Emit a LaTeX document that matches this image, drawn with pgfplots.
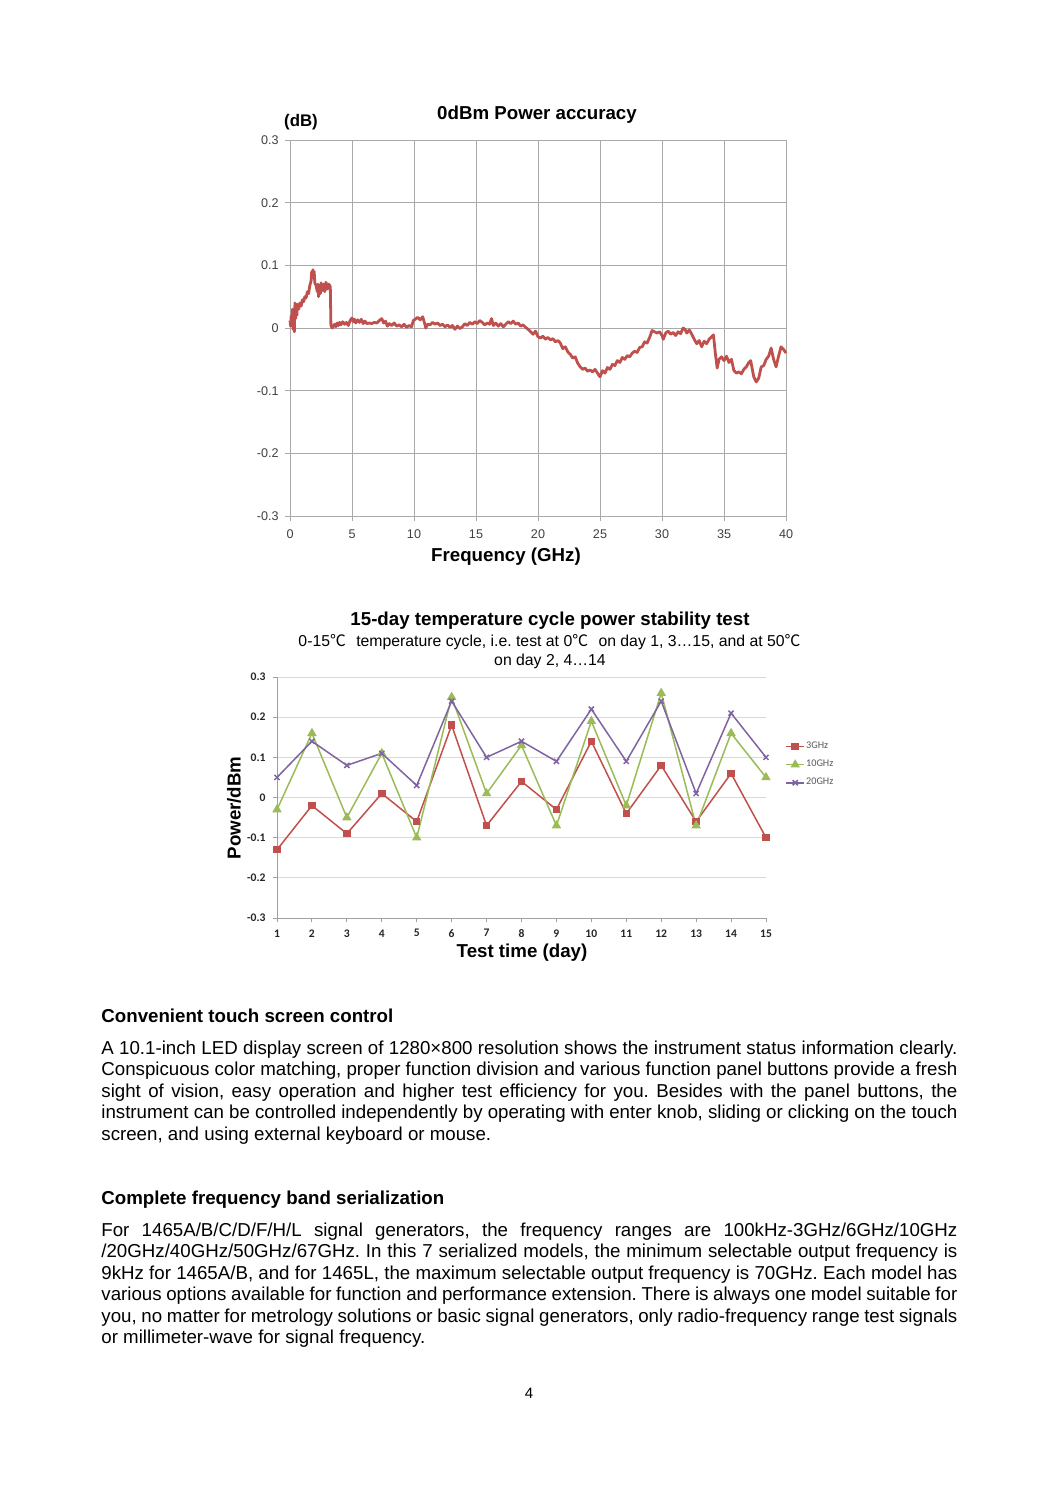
\documentclass[border=0pt]{standalone}
\usepackage{fontspec}
\setmainfont{Liberation Sans}
\newfontfamily\cjk{Noto Sans CJK SC}
\newfontfamily\cali{Carlito}
\usepackage{pgfplots}
\pgfplotsset{compat=1.18}
\definecolor{xred}{HTML}{C0504D}
\definecolor{xgreen}{HTML}{9BBB59}
\definecolor{xpurple}{HTML}{8064A2}
\definecolor{gridA}{HTML}{AAAAAA}
\definecolor{gridB}{HTML}{D9D9D9}
\definecolor{axB}{HTML}{A0A0A0}
\frenchspacing
\begin{document}
\begin{tikzpicture}
\path[fill=white,use as bounding box] (0pt,0pt) rectangle (530pt,-749pt);
% ---------------- chart 1 ----------------
\begin{axis}[at={(145pt,-258pt)}, anchor=south west, scale only axis,
  width=248pt, height=188pt,
  xmin=0, xmax=40, ymin=-0.3, ymax=0.3,
  xtick={0,5,10,15,20,25,30,35,40},
  ytick={-0.3,-0.2,-0.1,0,0.1,0.2,0.3},
  yticklabels={-0.3,-0.2,-0.1,0,0.1,0.2,0.3},
  xticklabels={0,5,10,15,20,25,30,35,40},
  grid=major, grid style={draw=gridA, line width=0.5pt},
  axis line style={draw=gridA, line width=0.5pt},
  tick style={draw=gridA, line width=0.5pt},
  tick align=outside, major tick length=2.5pt,
  xtick pos=bottom, ytick pos=left,
  ticklabel style={font=\fontsize{6.3}{7}\selectfont, text=black!75},
  yticklabel style={xshift=0.3pt},
  xticklabel style={yshift=-1pt},
  clip=false]
\addplot[xred, line width=1.4pt, line join=round] table {
x y
0.00 0.012
0.05 0.003
0.10 0.020
0.15 0.008
0.20 0.030
0.25 -0.002
0.30 0.025
0.35 -0.006
0.40 0.040
0.45 0.015
0.50 0.035
0.55 0.020
0.60 0.038
0.70 0.030
0.80 0.040
0.90 0.035
1.00 0.045
1.10 0.042
1.20 0.050
1.30 0.048
1.40 0.058
1.50 0.055
1.60 0.068
1.70 0.075
1.75 0.090
1.80 0.085
1.85 0.093
1.90 0.080
1.95 0.090
2.00 0.072
2.10 0.068
2.20 0.058
2.25 0.070
2.30 0.050
2.40 0.065
2.45 0.055
2.50 0.072
2.60 0.060
2.70 0.070
2.80 0.058
2.90 0.073
3.00 0.062
3.10 0.070
3.20 0.068
3.25 0.066
3.30 0.004
3.40 0.000
3.50 0.003
3.60 0.006
3.70 0.002
3.80 0.008
3.90 0.004
4.00 0.009
4.10 0.005
4.25 0.010
4.40 0.006
4.55 0.009
4.70 0.004
4.85 0.012
5.00 0.016
5.10 0.010
5.20 0.014
5.30 0.008
5.45 0.013
5.60 0.009
5.75 0.014
5.90 0.007
6.05 0.011
6.20 0.007
6.40 0.008
6.60 0.007
6.80 0.009
7.00 0.008
7.20 0.012
7.40 0.015
7.55 0.008
7.70 0.011
7.85 0.003
8.00 0.007
8.20 0.004
8.40 0.008
8.60 0.003
8.80 0.005
9.00 0.002
9.20 0.006
9.40 0.001
9.60 0.004
9.80 0.002
9.95 0.012
10.10 0.014
10.30 0.017
10.50 0.013
10.70 0.018
10.85 0.008
10.95 0.000
11.10 0.006
11.30 0.005
11.50 0.009
11.70 0.006
11.90 0.008
12.10 0.004
12.30 0.006
12.50 0.002
12.70 0.005
12.90 0.001
13.10 0.004
13.30 -0.002
13.50 0.003
13.70 -0.001
13.90 0.002
14.10 0.007
14.30 0.004
14.50 0.009
14.70 0.006
14.90 0.010
15.10 0.007
15.30 0.012
15.50 0.009
15.70 0.005
15.90 0.008
16.10 0.006
16.25 0.015
16.40 0.004
16.60 0.008
16.80 0.003
17.00 0.007
17.20 0.002
17.40 0.006
17.60 0.010
17.80 0.007
18.00 0.011
18.20 0.006
18.40 0.008
18.60 0.003
18.80 0.005
19.00 0.001
19.20 -0.002
19.40 -0.006
19.60 -0.010
19.80 -0.005
20.00 -0.014
20.20 -0.016
20.40 -0.013
20.60 -0.018
20.80 -0.015
21.00 -0.019
21.20 -0.017
21.40 -0.022
21.60 -0.020
21.80 -0.024
22.00 -0.033
22.20 -0.030
22.40 -0.038
22.60 -0.042
22.80 -0.048
23.00 -0.046
23.20 -0.056
23.40 -0.062
23.60 -0.066
23.80 -0.064
24.00 -0.069
24.20 -0.067
24.40 -0.070
24.60 -0.066
24.80 -0.072
25.00 -0.078
25.20 -0.068
25.40 -0.072
25.60 -0.063
25.80 -0.066
26.00 -0.058
26.20 -0.060
26.40 -0.052
26.60 -0.055
26.80 -0.047
27.00 -0.050
27.20 -0.044
27.40 -0.046
27.60 -0.040
27.80 -0.037
28.00 -0.039
28.20 -0.031
28.40 -0.030
28.60 -0.022
28.80 -0.024
29.00 -0.015
29.20 -0.004
29.40 -0.006
29.60 -0.008
29.80 -0.006
30.00 -0.012
30.10 -0.018
30.30 -0.008
30.50 -0.005
30.70 -0.010
30.90 -0.007
31.10 -0.012
31.30 -0.006
31.50 -0.009
31.70 0.000
31.85 -0.002
32.00 -0.008
32.20 -0.003
32.40 -0.010
32.60 -0.018
32.80 -0.025
33.00 -0.020
33.20 -0.030
33.40 -0.021
33.60 -0.025
33.80 -0.018
34.00 -0.014
34.15 -0.011
34.30 -0.040
34.45 -0.064
34.60 -0.050
34.80 -0.046
35.00 -0.052
35.20 -0.045
35.40 -0.055
35.60 -0.050
35.80 -0.068
36.00 -0.072
36.20 -0.070
36.40 -0.073
36.60 -0.066
36.80 -0.062
37.00 -0.055
37.15 -0.052
37.40 -0.078
37.60 -0.086
37.80 -0.080
38.00 -0.062
38.20 -0.060
38.40 -0.050
38.60 -0.045
38.80 -0.032
39.00 -0.050
39.20 -0.062
39.40 -0.045
39.60 -0.030
39.80 -0.034
40.00 -0.040
};
\end{axis}
\node[font=\bfseries\fontsize{9.35}{11}\selectfont] at (268.5pt,-57.5pt) {0dBm Power accuracy};
\node[font=\bfseries\fontsize{8.4}{10}\selectfont] at (150.5pt,-61pt) {(dB)};
\node[font=\bfseries\fontsize{9.35}{11}\selectfont] at (253pt,-278.5pt) {Frequency (GHz)};
% ---------------- chart 2 ----------------
\begin{axis}[at={(138.5pt,-459pt)}, anchor=south west, scale only axis,
  width=244.5pt, height=120.5pt,
  xmin=1, xmax=15, ymin=-0.3, ymax=0.3,
  xtick={1,2,...,15},
  xticklabels={1,2,3,4,5,6,7,8,9,10,11,12,13,14,15},
  ytick={-0.3,-0.2,-0.1,0,0.1,0.2,0.3},
  yticklabels={-0.3,-0.2,-0.1,0,0.1,0.2,0.3},
  axis x line*=bottom, axis y line*=left,
  ymajorgrids, grid style={draw=gridB, line width=0.5pt},
  axis line style={draw=axB, line width=0.5pt},
  tick style={draw=axB, line width=0.5pt},
  tick align=outside, major tick length=2.2pt,
  ticklabel style={font=\cali\bfseries\fontsize{5.8}{7}\selectfont, text=black!85},
  clip=false,
  legend style={draw=none, fill=none, at={(1.039,0.636)}, anchor=west,
     font=\cali\fontsize{5.1}{6}\selectfont, text=black!65, row sep=3pt,
     inner sep=0pt, nodes={inner sep=0.6pt}},
  legend cell align=left,
  legend image code/.code={\draw[mark repeat=2,mark phase=2] plot coordinates {(0pt,0pt) (4.5pt,0pt) (9pt,0pt)};}
  ]
\addplot[xred, line width=0.75pt, mark=square*, mark size=1.5pt] coordinates {
(1,-0.13) (2,-0.02) (3,-0.09) (4,0.01) (5,-0.06) (6,0.18) (7,-0.07) (8,0.04)
(9,-0.03) (10,0.14) (11,-0.04) (12,0.08) (13,-0.06) (14,0.06) (15,-0.10)};
\addlegendentry{3GHz}
\addplot[xgreen, line width=0.75pt, mark=triangle*, mark size=2pt] coordinates {
(1,-0.03) (2,0.16) (3,-0.05) (4,0.11) (5,-0.10) (6,0.25) (7,0.01) (8,0.13)
(9,-0.07) (10,0.19) (11,-0.02) (12,0.26) (13,-0.07) (14,0.16) (15,0.05)};
\addlegendentry{10GHz}
\addplot[xpurple, line width=0.75pt, mark=x, mark size=1.8pt] coordinates {
(1,0.05) (2,0.14) (3,0.08) (4,0.11) (5,0.03) (6,0.24) (7,0.10) (8,0.14)
(9,0.09) (10,0.22) (11,0.09) (12,0.24) (13,0.01) (14,0.21) (15,0.10)};
\addlegendentry{20GHz}
\end{axis}
\node[font=\bfseries\fontsize{9.35}{11}\selectfont] at (275pt,-310.5pt) {15-day temperature cycle power stability test};
\node[font=\fontsize{7.9}{9}\selectfont] at (274.75pt,-321pt) {0-15{\cjk ℃}\hspace{3pt} temperature cycle, i.e. test at 0{\cjk ℃}\hspace{3pt} on day 1, 3…15, and at 50{\cjk ℃}};
\node[font=\fontsize{7.9}{9}\selectfont] at (275pt,-330.5pt) {on day 2, 4…14};
\node[font=\bfseries\fontsize{9.35}{11}\selectfont, rotate=90] at (117pt,-404pt) {Power/dBm};
\node[font=\bfseries\fontsize{9.35}{11}\selectfont] at (261pt,-476.5pt) {Test time (day)};
% ---------------- body text ----------------
\node[anchor=base west, inner sep=0pt, font=\bfseries\fontsize{9.35}{10.75}\selectfont] at (50.5pt,-511pt) {Convenient touch screen control};
\node[anchor=base west, inner sep=0pt, text width=428pt, align=justify, font=\fontsize{9.35}{10.75}\selectfont] at (50.5pt,-527pt) {\hyphenpenalty=10000 A 10.1-inch LED display screen of 1280×800 resolution shows the instrument status information clearly.\linebreak Conspicuous color matching, proper function division and various function panel buttons provide a fresh\linebreak sight of vision, easy operation and higher test efficiency for you. Besides with the panel buttons, the\linebreak instrument can be controlled independently by operating with enter knob, sliding or clicking on the touch\linebreak screen, and using external keyboard or mouse.};
\node[anchor=base west, inner sep=0pt, font=\bfseries\fontsize{9.35}{10.75}\selectfont] at (50.5pt,-602.25pt) {Complete frequency band serialization};
\node[anchor=base west, inner sep=0pt, text width=428pt, align=justify, font=\fontsize{9.35}{10.75}\selectfont] at (50.5pt,-618pt) {\hyphenpenalty=10000 For 1465A/B/C/D/F/H/L signal generators, the frequency ranges are 100kHz-3GHz/6GHz/10GHz\linebreak /20GHz/40GHz/50GHz/67GHz. In this 7 serialized models, the minimum selectable output frequency is\linebreak 9kHz for 1465A/B, and for 1465L, the maximum selectable output frequency is 70GHz. Each model has\linebreak various options available for function and performance extension. There is always one model suitable for\linebreak you, no matter for metrology solutions or basic signal generators, only radio-frequency range test signals\linebreak or millimeter-wave for signal frequency.};
\node[font=\fontsize{7.5}{9}\selectfont] at (264.5pt,-696.5pt) {4};
\end{tikzpicture}
\end{document}
